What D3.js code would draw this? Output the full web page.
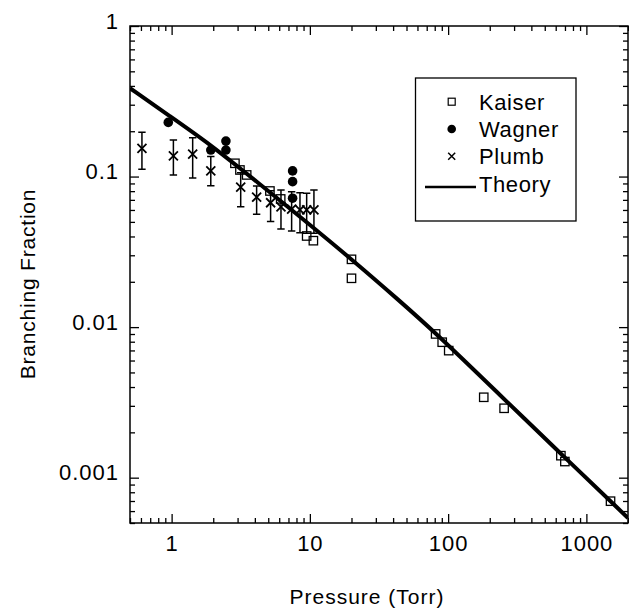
<!DOCTYPE html>
<html>
<head>
<meta charset="utf-8">
<script src="https://cdn.jsdelivr.net/npm/d3@7"></script>
<style>
  body { margin: 0; background: #fff; }
  svg { display: block; font-family: "Liberation Sans", Arial, Helvetica, sans-serif; }
</style>
</head>
<body>
<svg id="chart" width="629" height="609"></svg>
<script>
// Kaiser (open squares)
const kaiserP = [2.87, 3.12, 3.49, 5.14, 6.15, 9.48, 10.6, 20.0, 20.0, 81.2, 90.6, 101, 181, 254, 654, 699, 1495];
const kaiserF = [0.1225, 0.1106, 0.1025, 0.0802, 0.071, 0.0403, 0.0375, 0.0282, 0.0211, 0.00901, 0.00794, 0.00698, 0.00342, 0.00289, 0.0014, 0.00128, 0.000698];

// Wagner (filled circles)
const wagnerP = [0.946, 1.92, 2.47, 2.47, 7.5, 7.5, 7.5];
const wagnerF = [0.229, 0.150, 0.172, 0.150, 0.109, 0.0925, 0.0718];

// Plumb (crosses with error bars)
const plumbP = [0.61, 1.03, 1.42, 1.92, 3.16, 4.12, 5.2, 6.18, 7.38, 8.48, 9.48, 10.7];
const plumbF = [0.154, 0.137, 0.141, 0.109, 0.085, 0.0729, 0.067, 0.063, 0.0607, 0.060, 0.060, 0.060];
const plumbHi = [0.197, 0.175, 0.181, 0.136, 0.106, 0.0866, 0.0806, 0.0815, 0.0794, 0.0782, 0.0775, 0.0815];
const plumbLo = [0.112, 0.1025, 0.098, 0.087, 0.063, 0.0562, 0.0502, 0.0449, 0.0435, 0.0424, 0.042, 0.042];

// Theory curve
const theoryP = [0.5, 0.946, 1.93, 4.24, 8.45, 20.0, 44.7, 81.4, 237, 655, 2000];
const theoryF = [0.386, 0.256, 0.162, 0.0906, 0.0543, 0.0283, 0.0149, 0.00914, 0.00354, 0.00144, 0.00054];

const xMajor = [1, 10, 100, 1000];
const yMajor = [0.001, 0.01, 0.1, 1];
const xLabels = ["1", "10", "100", "1000"];
const yLabels = ["0.001", "0.01", "0.1", "1"];

const legendNames = ["Kaiser", "Wagner", "Plumb", "Theory"];

const svg = d3.select("#chart");
const pLeft = 130, pRight = 628, pTop = 26, pBottom = 523;

const x = d3.scaleLog().domain([0.5, 2000]).range([pLeft, pRight]);
const y = d3.scaleLog().domain([0.0005, 1]).range([pBottom, pTop]);

const xMinor = x.ticks().filter(t => !xMajor.some(m => Math.abs(m - t) < 1e-9));
const yMinor = y.ticks().filter(t => !yMajor.some(m => Math.abs(m - t) / m < 1e-6));

function styleAxis(g) {
    g.select(".domain").remove();
    g.selectAll(".tick line").attr("stroke", "#000").attr("stroke-width", 1.3);
    g.selectAll("text").attr("fill", "#000").style("font-size", "22px").style("letter-spacing", "1px");
}

// bottom
svg.append("g").attr("transform", `translate(0,${pBottom})`)
    .call(d3.axisBottom(x).tickValues(xMinor).tickSizeInner(-5).tickSizeOuter(0).tickFormat(""))
    .call(styleAxis);
svg.append("g").attr("transform", `translate(0,${pBottom})`)
    .call(d3.axisBottom(x).tickValues(xMajor).tickSizeInner(-9).tickSizeOuter(0).tickPadding(12)
        .tickFormat((d, i) => xLabels[i]))
    .call(styleAxis);
// top
svg.append("g").attr("transform", `translate(0,${pTop})`)
    .call(d3.axisTop(x).tickValues(xMinor).tickSizeInner(-5).tickSizeOuter(0).tickFormat(""))
    .call(styleAxis);
svg.append("g").attr("transform", `translate(0,${pTop})`)
    .call(d3.axisTop(x).tickValues(xMajor).tickSizeInner(-9).tickSizeOuter(0).tickFormat(""))
    .call(styleAxis);
// left
svg.append("g").attr("transform", `translate(${pLeft},0)`)
    .call(d3.axisLeft(y).tickValues(yMinor).tickSizeInner(-5).tickSizeOuter(0).tickFormat(""))
    .call(styleAxis);
svg.append("g").attr("transform", `translate(${pLeft},0)`)
    .call(d3.axisLeft(y).tickValues(yMajor).tickSizeInner(-9).tickSizeOuter(0).tickPadding(11)
        .tickFormat((d, i) => yLabels[i]))
    .call(styleAxis)
    .call(g => g.selectAll("text").attr("dy", "0.1em"));
// right
svg.append("g").attr("transform", `translate(${pRight},0)`)
    .call(d3.axisRight(y).tickValues(yMinor).tickSizeInner(-5).tickSizeOuter(0).tickFormat(""))
    .call(styleAxis);
svg.append("g").attr("transform", `translate(${pRight},0)`)
    .call(d3.axisRight(y).tickValues(yMajor).tickSizeInner(-9).tickSizeOuter(0).tickFormat(""))
    .call(styleAxis);

// frame
svg.append("rect")
    .attr("x", pLeft).attr("y", pTop)
    .attr("width", pRight - pLeft).attr("height", pBottom - pTop)
    .attr("fill", "none").attr("stroke", "#000").attr("stroke-width", 1.5);

// axis titles
svg.append("text")
    .attr("x", (pLeft + pRight) / 2 - 12).attr("y", 604)
    .attr("text-anchor", "middle")
    .style("font-size", "21px").style("letter-spacing", "1px")
    .text("Pressure (Torr)");
svg.append("text")
    .attr("transform", `translate(35,${284}) rotate(-90)`)
    .attr("text-anchor", "middle")
    .style("font-size", "21px").style("letter-spacing", "0.8px")
    .text("Branching Fraction");

svg.append("clipPath").attr("id", "plot-clip")
    .append("rect").attr("x", pLeft).attr("y", pTop).attr("width", pRight - pLeft).attr("height", pBottom - pTop);

const plot = svg.append("g").attr("clip-path", "url(#plot-clip)");

// theory line
const theory = theoryP.map((p, i) => [p, theoryF[i]]);
plot.append("path")
    .datum(theory)
    .attr("fill", "none")
    .attr("stroke", "#000")
    .attr("stroke-width", 4)
    .attr("d", d3.line().x(d => x(d[0])).y(d => y(d[1])).curve(d3.curveBasis));

// Plumb error bars + crosses
const plumb = plumbP.map((p, i) => ({ p: p, f: plumbF[i], hi: plumbHi[i], lo: plumbLo[i] }));
const pg = plot.append("g").attr("stroke", "#000").attr("stroke-width", 1.5).attr("fill", "none");
pg.selectAll("path.err")
    .data(plumb)
    .join("path")
    .attr("class", "err")
    .attr("d", d => {
        const cx = x(d.p), y1 = y(d.hi), y2 = y(d.lo);
        return `M${cx},${y1}V${y2}M${cx - 3.7},${y1}H${cx + 3.7}M${cx - 3.7},${y2}H${cx + 3.7}`;
    });
pg.selectAll("path.cross")
    .data(plumb)
    .join("path")
    .attr("class", "cross")
    .attr("stroke-width", 1.8)
    .attr("d", d => {
        const cx = x(d.p), cy = y(d.f), s = 4.5;
        return `M${cx - s},${cy - s}L${cx + s},${cy + s}M${cx - s},${cy + s}L${cx + s},${cy - s}`;
    });

// Kaiser squares
const kaiser = kaiserP.map((p, i) => ({ p: p, f: kaiserF[i] }));
plot.append("g").selectAll("rect")
    .data(kaiser)
    .join("rect")
    .attr("x", d => x(d.p) - 4.2)
    .attr("y", d => y(d.f) - 4.2)
    .attr("width", 8.4).attr("height", 8.4)
    .attr("fill", "none").attr("stroke", "#000").attr("stroke-width", 1.3);

// Wagner dots
const wagner = wagnerP.map((p, i) => ({ p: p, f: wagnerF[i] }));
plot.append("g").selectAll("circle")
    .data(wagner)
    .join("circle")
    .attr("cx", d => x(d.p))
    .attr("cy", d => y(d.f))
    .attr("r", 4.8)
    .attr("fill", "#000");

// legend
const lg = svg.append("g");
lg.append("rect")
    .attr("x", 415.5).attr("y", 78).attr("width", 160.5).attr("height", 143)
    .attr("fill", "#fff").attr("stroke", "#000").attr("stroke-width", 1.3);
const rowY = [101.7, 129, 156.3, 184];
const symX = 451.7;
lg.append("rect").attr("x", symX - 3.5).attr("y", rowY[0] - 3.5).attr("width", 7).attr("height", 7)
    .attr("fill", "none").attr("stroke", "#000").attr("stroke-width", 1.2);
lg.append("circle").attr("cx", symX).attr("cy", rowY[1]).attr("r", 4.3).attr("fill", "#000");
lg.append("path")
    .attr("d", `M${symX - 3.5},${rowY[2] - 3.5}L${symX + 3.5},${rowY[2] + 3.5}M${symX - 3.5},${rowY[2] + 3.5}L${symX + 3.5},${rowY[2] - 3.5}`)
    .attr("stroke", "#000").attr("stroke-width", 1.5);
lg.append("line").attr("x1", 425).attr("x2", 476).attr("y1", rowY[3] + 3).attr("y2", rowY[3] + 3)
    .attr("stroke", "#000").attr("stroke-width", 2.5);
lg.selectAll("text.name")
    .data(legendNames)
    .join("text")
    .attr("class", "name")
    .attr("x", 479)
    .attr("y", (d, i) => rowY[i])
    .attr("dy", "0.36em")
    .style("font-size", "22px").style("letter-spacing", "0.6px")
    .text(d => d);
</script>
</body>
</html>
